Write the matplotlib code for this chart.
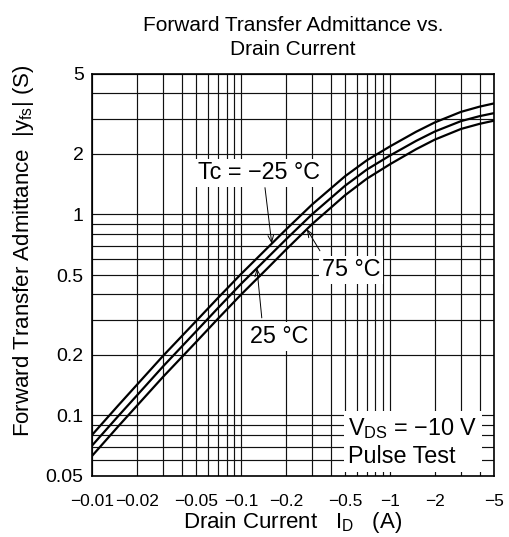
import numpy as np
import matplotlib
matplotlib.use("Agg")
import matplotlib.pyplot as plt
from matplotlib.ticker import FixedLocator, NullFormatter

# Drain current magnitude |I_D| (A) and |y_fs| (S) for each case temperature
drain_current = [0.01, 0.015, 0.02, 0.03, 0.05, 0.07, 0.1, 0.15, 0.2, 0.3,
                 0.5, 0.7, 1, 1.5, 2, 3, 4, 5]
yfs_m25 = [0.080, 0.1122, 0.142, 0.198, 0.295, 0.384, 0.505, 0.68, 0.84, 1.12,
           1.55, 1.86, 2.18, 2.58, 2.87, 3.24, 3.44, 3.57]
yfs_25 = [0.0708, 0.0993, 0.1257, 0.1755, 0.2622, 0.342, 0.451, 0.607, 0.75, 1.002,
          1.39, 1.673, 1.964, 2.324, 2.586, 2.914, 3.085, 3.193]
yfs_75 = [0.0629, 0.0883, 0.1117, 0.1557, 0.232, 0.3027, 0.399, 0.538, 0.667, 0.895,
          1.247, 1.507, 1.777, 2.113, 2.357, 2.664, 2.825, 2.929]

x_ticks = [0.01, 0.02, 0.05, 0.1, 0.2, 0.5, 1, 2, 5]
x_labels = ["\u22120.01", "\u22120.02", "\u22120.05", "\u22120.1", "\u22120.2",
            "\u22120.5", "\u22121", "\u22122", "\u22125"]
y_ticks = [0.05, 0.1, 0.2, 0.5, 1, 2, 5]
y_labels = ["0.05", "0.1", "0.2", "0.5", "1", "2", "5"]

plt.rcParams["font.family"] = ["Liberation Sans", "DejaVu Sans"]
plt.rcParams["mathtext.fontset"] = "custom"
plt.rcParams["mathtext.rm"] = "Liberation Sans"
plt.rcParams["mathtext.it"] = "Liberation Sans"
plt.rcParams["mathtext.bf"] = "Liberation Sans:bold"

fig = plt.figure(figsize=(5.09, 5.37), dpi=100)
ax = fig.add_axes([92 / 509, 61 / 537, 402 / 509, 402 / 537])

for yv in (yfs_m25, yfs_25, yfs_75):
    ax.plot(drain_current, yv, color="black", lw=1.6, solid_joinstyle="round")

ax.set_xscale("log")
ax.set_yscale("log")
ax.set_xlim(0.01, 5)
ax.set_ylim(0.05, 5)

# full log grid (every 1..9 step)
grid_x = [m * 10.0 ** e for e in (-2, -1, 0) for m in range(1, 10) if m * 10.0 ** e <= 5]
grid_y = [m * 10.0 ** e for e in (-2, -1, 0) for m in range(1, 10)
          if 0.05 <= m * 10.0 ** e <= 5]
ax.xaxis.set_major_locator(FixedLocator(x_ticks))
ax.xaxis.set_minor_locator(FixedLocator(grid_x))
ax.yaxis.set_major_locator(FixedLocator(y_ticks))
ax.yaxis.set_minor_locator(FixedLocator(grid_y))
ax.xaxis.set_minor_formatter(NullFormatter())
ax.yaxis.set_minor_formatter(NullFormatter())
ax.set_xticklabels(x_labels)
ax.set_yticklabels(y_labels)
ax.grid(True, which="both", color="#111111", lw=0.85)
ax.tick_params(which="both", length=0)
ax.tick_params(axis="x", labelsize=12.5, pad=13)
ax.tick_params(axis="y", labelsize=14, pad=6)
for s in ax.spines.values():
    s.set_linewidth(1.2)

ax.set_title("Forward Transfer Admittance vs.\nDrain Current", fontsize=15, pad=14,
             linespacing=1.3)
ax.set_xlabel(r"Drain Current   $\mathrm{I}_{\mathrm{D}}$   (A)", fontsize=16)
ax.xaxis.set_label_coords(0.5, -0.084)
ax.set_ylabel(r"Forward Transfer Admittance  $|\mathrm{y}_{\mathrm{fs}}|$ (S)", fontsize=16)
ax.yaxis.set_label_coords(-0.14, 0.56)

box = dict(facecolor="white", edgecolor="none", pad=2)
arrow = dict(arrowstyle="->,head_length=0.5,head_width=0.2", color="black", lw=0.7,
             shrinkA=0, shrinkB=0)

def curve_at(x, yv):
    return 10 ** np.interp(np.log10(x), np.log10(drain_current), np.log10(yv))

ax.annotate("", xy=(0.161, curve_at(0.161, yfs_m25)), xytext=(0.145, 1.36), arrowprops=arrow)
ax.annotate("", xy=(0.277, curve_at(0.277, yfs_75)), xytext=(0.339, 0.66), arrowprops=arrow)
ax.annotate("", xy=(0.128, curve_at(0.128, yfs_25)), xytext=(0.138, 0.306), arrowprops=arrow)

ax.text(0.132, 1.61, "Tc = \u221225 \u00b0C", fontsize=16.8, ha="center", va="center", bbox=box)
ax.text(0.549, 0.53, "75 \u00b0C", fontsize=16.8, ha="center", va="center", bbox=box)
ax.text(0.182, 0.248, "25 \u00b0C", fontsize=16.8, ha="center", va="center", bbox=box)
ax.text(0.637, 0.085, "$\\mathrm{V}_{\\mathrm{DS}}$ = \u221210 V\nPulse Test", fontsize=16.8,
        ha="left", va="center", transform=ax.transAxes, linespacing=1.2,
        bbox=dict(facecolor="white", edgecolor="none", pad=3))

fig.savefig("out.png", dpi=100)
